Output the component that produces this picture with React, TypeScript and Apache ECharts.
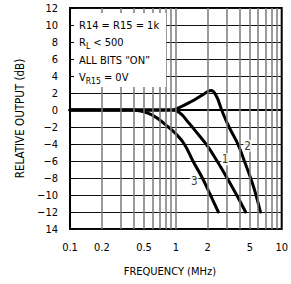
import React, { useEffect, useRef } from "react";
import * as echarts from "echarts";

const freqLabels = [0.1, 0.2, 0.5, 1, 2, 5, 10];
const freqGrid = [0.2, 0.3, 0.4, 0.5, 0.6, 0.7, 0.8, 0.9, 1, 2, 3, 4, 5, 6, 7, 8, 9];
const curve1 = [[0.1, 0], [0.5, 0], [0.9, 0], [1.08, -0.3], [1.34, -1.6], [1.66, -3], [1.98, -4.2], [2.45, -6], [3.05, -8], [3.75, -10], [4.56, -12]];
const curve2 = [[0.1, 0], [0.5, 0], [0.9, 0], [1.1, 0.35], [1.4, 1.0], [1.8, 1.8], [2.15, 2.3], [2.4, 1.7], [2.71, 0], [3.18, -2], [3.85, -4], [4.5, -6.2], [5.25, -8.5], [5.8, -10.3], [6.3, -12]];
const curve3 = [[0.1, 0], [0.38, 0], [0.45, -0.1], [0.6, -0.6], [0.81, -1.8], [1.0, -2.8], [1.2, -4], [1.45, -6], [1.78, -8], [2.12, -10], [2.52, -12]];
const curveNames = ["1", "2", "3"];
const curveLabelPoints = [[2.92, -5.8, "1"], [4.75, -4.2, "2"], [1.49, -8.35, "3"]];
const annotationLines = ["R14 = R15 = 1k", "R{s|L} < 500", "ALL BITS “ON”", "V{s|R15} = 0V"];

const FONT = "'DejaVu Sans Condensed', 'Liberation Sans', Arial, sans-serif";

export default function App() {
  const ref = useRef<HTMLDivElement>(null);
  useEffect(() => {
    document.body.style.margin = "0";
    if (!ref.current) return;
    const chart = echarts.init(ref.current, null, { renderer: "svg" });
    const lineSeries = [curve1, curve2, curve3].map((d, i) => ({
      type: "line",
      name: curveNames[i],
      data: d,
      smooth: 0.45,
      symbol: "none",
      z: 3,
      lineStyle: { color: "#000", width: 3, cap: "round" },
    }));
    chart.setOption({
      animation: false,
      grid: { left: 70, right: 8, top: 8, height: 221, show: true, borderColor: "#000", borderWidth: 2, backgroundColor: "transparent" },
      xAxis: {
        type: "log",
        logBase: 10,
        min: 0.1,
        max: 10,
        name: "FREQUENCY (MHz)",
        nameLocation: "middle",
        nameGap: 37,
        nameTextStyle: { fontFamily: FONT, fontSize: 11, color: "#000", padding: [0, 12, 0, 0] },
        axisLine: { show: true, lineStyle: { color: "#000", width: 2 } },
        axisTick: { show: false },
        splitLine: { show: false },
        axisLabel: {
          customValues: freqLabels,
          margin: 13,
          fontFamily: FONT,
          fontSize: 11,
          color: "#000",
          formatter: (v: number) => String(v),
        },
      },
      yAxis: {
        type: "value",
        min: -14,
        max: 12,
        interval: 2,
        name: "RELATIVE OUTPUT (dB)",
        nameLocation: "middle",
        nameGap: 44,
        nameTextStyle: { fontFamily: FONT, fontSize: 11.5, color: "#000" },
        axisLine: { show: true, lineStyle: { color: "#000", width: 2 } },
        axisTick: { show: true, inside: true, length: 5, lineStyle: { color: "#000", width: 1 } },
        splitLine: { show: true, lineStyle: { color: "#111", width: 1.2 } },
        axisLabel: {
          margin: 12,
          fontFamily: FONT,
          fontSize: 11,
          color: "#000",
          formatter: (v: number) => (v === -14 ? "14" : v < 0 ? "−" + Math.abs(v) : String(v)),
        },
      },
      series: [
        {
          type: "line",
          data: [[1, 0]],
          symbol: "none",
          lineStyle: { opacity: 0 },
          z: 1,
          silent: true,
          markLine: {
            silent: true,
            symbol: "none",
            label: { show: false },
            lineStyle: { color: "#7a7a7a", width: 1.5, type: "solid" },
            data: freqGrid.map((v) => ({ xAxis: v })),
          },
        },
        ...lineSeries,
        {
          type: "scatter",
          data: curveLabelPoints,
          symbolSize: 1,
          itemStyle: { color: "transparent" },
          z: 5,
          label: {
            show: true,
            position: "inside",
            formatter: (p: any) => p.value[2],
            fontFamily: FONT,
            fontSize: 11.5,
            color: "#000",
            backgroundColor: "#fff",
            padding: [0, 1],
          },
        },
      ],
      graphic: [
        { type: "rect", shape: { x: 74, y: 13, width: 92, height: 74 }, style: { fill: "#fff" }, z: 10 },
        ...annotationLines.map((t, i) => ({
          type: "text",
          x: 79,
          y: 25 + i * 17.5,
          z: 11,
          style: {
            text: t,
            fontFamily: FONT,
            fontSize: 11,
            fill: "#000",
            verticalAlign: "middle",
            rich: { s: { fontFamily: FONT, fontSize: 8.5, fill: "#000", padding: [6, 0, 0, 0] } },
          },
        })),
      ],
    });
    return () => chart.dispose();
  }, []);
  return <div ref={ref} style={{ width: 291, height: 284 }} />;
}
